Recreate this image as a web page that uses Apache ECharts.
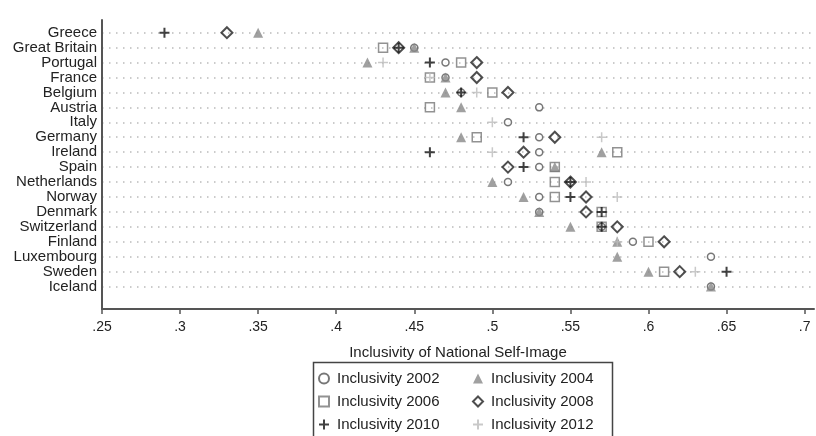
<!DOCTYPE html>
<html>
<head>
<meta charset="utf-8">
<script src="https://cdn.jsdelivr.net/npm/echarts@6/dist/echarts.min.js"></script>
<style>html,body{margin:0;padding:0;background:#fff}#c{width:816px;height:436px}</style>
</head>
<body>
<div id="c"></div>
<script>
var countries = ['Greece','Great Britain','Portugal','France','Belgium','Austria','Italy','Germany','Ireland','Spain','Netherlands','Norway','Denmark','Switzerland','Finland','Luxembourg','Sweden','Iceland'];
var xTicks = [0.25,0.3,0.35,0.4,0.45,0.5,0.55,0.6,0.65,0.7];
var inc2002 = [null,0.45,0.47,0.47,0.48,0.53,0.51,0.53,0.53,0.53,0.51,0.53,0.53,0.57,0.59,0.64,null,0.64];
var inc2004 = [0.35,0.45,0.42,0.47,0.47,0.48,null,0.48,0.57,0.54,0.50,0.52,0.53,0.55,0.58,0.58,0.60,0.64];
var inc2006 = [null,0.43,0.48,0.46,0.50,0.46,null,0.49,0.58,0.54,0.54,0.54,0.57,0.57,0.60,null,0.61,null];
var inc2008 = [0.33,0.44,0.49,0.49,0.51,null,null,0.54,0.52,0.51,0.55,0.56,0.56,0.58,0.61,null,0.62,null];
var inc2010 = [0.29,0.44,0.46,null,0.48,null,null,0.52,0.46,0.52,0.55,0.55,0.57,0.57,null,null,0.65,null];
var inc2012 = [null,null,0.43,0.46,0.49,null,0.50,0.57,0.50,null,0.56,0.58,null,null,0.58,null,0.63,null];
var legendCol1 = ['Inclusivity 2002','Inclusivity 2006','Inclusivity 2010'];
var legendCol2 = ['Inclusivity 2004','Inclusivity 2008','Inclusivity 2012'];

var FONT = "'Liberation Sans', Arial, sans-serif";
var PLUS = 'path://M5,0L5,10M0,5L10,5';
function pts(arr){var o=[];arr.forEach(function(v,i){if(v!==null)o.push([v,i]);});return o;}
var yIdx = countries.map(function(_,i){return i;});
function legendCol(data,left){
  return {orient:'vertical',left:left,top:371,itemGap:8,itemWidth:10,itemHeight:10,padding:0,
    textStyle:{fontSize:15,color:'#222',fontFamily:FONT,padding:[0,0,0,3]},data:data};
}

var chart = echarts.init(document.getElementById('c'));
chart.setOption({
  animation:false,
  backgroundColor:'#fff',
  textStyle:{fontFamily:FONT},
  grid:{left:102,right:2,top:20,bottom:127},
  xAxis:{type:'value',min:0.25,max:0.706,
    name:'Inclusivity of National Self-Image',nameLocation:'middle',nameGap:36,
    nameTextStyle:{fontSize:15,color:'#222',fontFamily:FONT},
    axisLine:{onZero:false,lineStyle:{color:'#555',width:2}},
    axisTick:{customValues:xTicks,length:5,lineStyle:{color:'#555',width:1.5}},
    axisLabel:{customValues:xTicks,margin:11,fontSize:14,color:'#222',fontFamily:FONT,
      formatter:function(v){return String(+v.toFixed(2)).replace(/^0/,'');}},
    splitLine:{show:false}},
  yAxis:{type:'value',inverse:true,min:-0.85,max:18.5,
    axisLine:{show:true,onZero:false,lineStyle:{color:'#555',width:2}},
    axisTick:{show:false,customValues:yIdx},
    axisLabel:{customValues:yIdx,margin:5,fontSize:15,color:'#222',fontFamily:FONT,
      formatter:function(v){return countries[Math.round(v)]||'';}},
    splitLine:{show:true,lineStyle:{color:'#bbb',width:1.5,type:[1.5,5.5]}}},
  legend:[legendCol(legendCol1,318),legendCol(legendCol2,472)],
  graphic:[{type:'rect',shape:{x:313.5,y:362.5,width:299,height:90},style:{fill:'none',stroke:'#444',lineWidth:1.5},silent:true}],
  series:[
    {name:'Inclusivity 2002',type:'scatter',data:pts(inc2002),symbol:'circle',symbolSize:7,
      itemStyle:{color:'#fff',borderColor:'#555',borderWidth:1.5}},
    {name:'Inclusivity 2004',type:'scatter',data:pts(inc2004),symbol:'triangle',symbolSize:10,
      itemStyle:{color:'#888',borderColor:'#888',borderWidth:0}},
    {name:'Inclusivity 2006',type:'scatter',data:pts(inc2006),symbol:'rect',symbolSize:9,
      itemStyle:{color:'rgba(255,255,255,0)',borderColor:'#777',borderWidth:1.5}},
    {name:'Inclusivity 2008',type:'scatter',data:pts(inc2008),symbol:'diamond',symbolSize:11,
      itemStyle:{color:'rgba(255,255,255,0)',borderColor:'#222',borderWidth:2}},
    {name:'Inclusivity 2010',type:'scatter',data:pts(inc2010),symbol:PLUS,symbolSize:10,
      itemStyle:{color:'#111',borderColor:'#111',borderWidth:2}},
    {name:'Inclusivity 2012',type:'scatter',data:pts(inc2012),symbol:PLUS,symbolSize:10,
      itemStyle:{color:'#bbb',borderColor:'#bbb',borderWidth:1.5}}
  ]
});
</script>
</body>
</html>
